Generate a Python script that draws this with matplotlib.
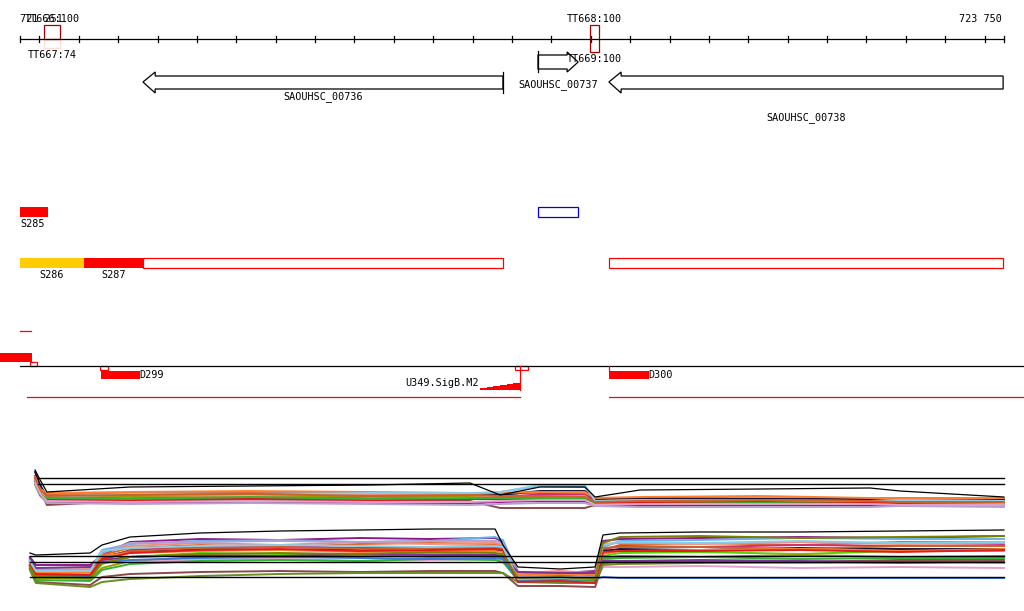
import matplotlib
matplotlib.use("Agg")
import matplotlib.pyplot as plt
from matplotlib.patches import Polygon, Rectangle

# ---------------- data ----------------
region_start, region_end = 721251, 723750
tick_step = 100

# terminators: name, score, start, end
terminators = [("TT666", 100, 721312, 721352), ("TT668", 100, 722698, 722721)]
term_labels_below = [("TT667", 74, 721332), ("TT669", 100, 722709)]

# genes: name, start, end, strand
genes = [("SAOUHSC_00736", 721563, 722477, -1),
         ("SAOUHSC_00737", 722566, 722668, +1),
         ("SAOUHSC_00738", 722746, 723747, -1)]

# segments
seg_S285 = (721251, 721322)
seg_blue = (722566, 722668)
seg_S286 = (721251, 721413)
seg_S287 = (721413, 721563)
seg_outline = [(721563, 722477), (722746, 723747)]

# small features track
feat_D299 = (721456, 721555)
feat_D300 = (722746, 722847)
feat_U349 = (722419, 722520)
red_bars_bottom = [(721269, 722520), (722746, 723800)]

# expression profiles, upper panel
up_x = [721289, 721302, 721319, 721530, 721835, 722139, 722393, 722470,
        722571, 722685, 722711, 722825, 723130, 723409, 723485, 723749]
up_ref = [7.4, 6.2]
up_black = [9.0, 7.0, 4.6, 5.6, 5.8, 6.0, 6.4, 4.0, 5.6, 5.6, 3.6, 5.0, 5.2, 5.4, 4.8, 3.6]
up_series = {
    "#66B3E6": [7.4, 5.4, 4.2, 4.4, 4.6, 4.4, 4.2, 4.6, 5.8, 5.6, 3.0, 3.2, 3.4, 3.4, 3.2, 3.0],
    "#E0662B": [7.8, 5.0, 4.0, 4.2, 4.4, 4.0, 4.2, 4.2, 4.4, 4.2, 3.0, 3.0, 3.2, 3.0, 2.8, 2.8],
    "#8B4A4A": [7.8, 5.0, 2.0, 2.8, 3.0, 2.8, 2.8, 1.4, 1.4, 1.4, 2.0, 2.0, 2.2, 2.0, 2.0, 2.2],
    "#14143C": [8.6, 6.0, 3.6, 3.6, 3.8, 3.6, 3.8, 4.0, 4.8, 4.8, 3.2, 3.4, 3.2, 3.2, 3.4, 3.2],
    "#55D400": [6.8, 4.6, 3.2, 3.4, 3.0, 3.4, 3.2, 3.4, 3.6, 3.4, 2.4, 2.6, 2.8, 2.6, 2.4, 2.4],
    "#9A9A00": [7.0, 4.4, 3.4, 3.8, 3.6, 3.8, 3.8, 3.0, 3.0, 3.0, 2.8, 2.8, 2.6, 2.6, 2.8, 2.6],
    "#CC2E7A": [6.6, 4.8, 3.0, 3.0, 3.4, 3.0, 3.2, 3.4, 4.2, 4.0, 2.8, 2.6, 2.4, 2.6, 2.6, 2.4],
    "#8B1A8B": [7.2, 4.2, 2.6, 2.4, 2.6, 2.4, 2.4, 2.6, 2.8, 2.8, 1.8, 1.8, 2.0, 2.0, 1.8, 1.8],
    "#F28C7A": [6.4, 4.6, 3.8, 4.0, 3.8, 4.2, 4.0, 3.6, 3.8, 3.8, 2.2, 2.4, 2.6, 2.4, 2.2, 2.2],
    "#B4A0D2": [6.0, 3.8, 2.4, 2.2, 2.4, 2.2, 2.0, 2.2, 2.4, 2.4, 1.8, 1.6, 1.6, 1.6, 1.8, 1.6],
    "#FF7F32": [7.6, 5.2, 4.4, 4.6, 4.8, 4.6, 4.4, 4.4, 4.6, 4.6, 3.4, 3.6, 3.8, 3.4, 3.4, 3.4],
    "#E31A1C": [6.8, 4.0, 3.0, 3.0, 3.2, 3.0, 3.2, 3.2, 3.2, 3.2, 2.6, 2.4, 2.6, 2.4, 2.4, 2.6],
    "#87CEEB": [7.0, 4.8, 3.6, 4.2, 4.0, 4.4, 4.4, 4.6, 6.0, 6.0, 2.8, 3.0, 3.0, 2.8, 3.0, 2.8],
    "#C8642A": [7.4, 5.0, 3.8, 4.0, 4.2, 3.8, 4.0, 3.8, 3.8, 3.6, 2.6, 2.8, 3.0, 2.8, 2.6, 2.6],
    "#33B233": [6.2, 4.0, 3.4, 3.2, 3.6, 3.2, 3.4, 3.4, 3.4, 3.2, 2.2, 2.2, 2.4, 2.2, 2.0, 2.0],
    "#E6A0C8": [6.4, 4.2, 2.8, 2.6, 2.8, 2.6, 2.6, 2.8, 3.0, 3.0, 2.0, 2.2, 2.2, 2.2, 2.0, 2.0],
}

# expression profiles, lower panel
lo_x = [721276, 721291, 721429, 721459, 721530, 721708, 721911, 722114, 722292, 722457,
        722477, 722515, 722622, 722711, 722731, 722774, 722977, 723231, 723485, 723749]
lo_ref = [7.8, 6.6, 3.6]
lo_black = [8.4, 8.0, 8.4, 10.0, 11.6, 12.4, 12.8, 13.0, 13.2, 13.2,
            10.0, 5.6, 5.2, 5.6, 12.0, 12.4, 12.6, 12.6, 12.8, 13.0]
lo_series = {
    "#8B1A8B": [7.6, 6.0, 6.0, 8.0, 10.6, 11.2, 11.0, 11.4, 11.2, 11.4, 10.6, 4.6, 4.4, 4.8, 10.8, 11.2, 11.4, 11.6, 11.4, 11.8],
    "#66B3E6": [7.0, 5.2, 5.0, 9.0, 10.2, 10.8, 11.0, 10.6, 10.8, 11.6, 11.0, 4.2, 4.4, 4.0, 9.6, 10.8, 11.0, 11.4, 11.2, 11.2],
    "#E0662B": [6.8, 4.6, 4.4, 8.0, 9.4, 10.0, 9.6, 10.2, 10.4, 10.2, 9.6, 4.0, 4.6, 4.2, 9.0, 10.0, 10.4, 10.0, 10.6, 10.6],
    "#CC2E7A": [6.4, 4.2, 4.0, 7.0, 9.0, 9.6, 9.8, 9.4, 9.6, 9.8, 9.0, 3.6, 3.2, 3.4, 9.2, 9.8, 9.6, 10.0, 9.8, 10.0],
    "#14143C": [6.0, 4.4, 4.8, 7.6, 8.8, 9.2, 9.0, 9.2, 9.4, 9.0, 8.8, 3.8, 3.4, 3.8, 8.8, 9.2, 9.0, 9.4, 9.2, 9.2],
    "#55D400": [6.2, 3.8, 3.6, 6.2, 7.6, 8.4, 8.2, 8.0, 8.4, 8.0, 8.0, 3.2, 3.4, 3.0, 7.8, 8.4, 8.6, 8.2, 8.8, 8.8],
    "#9A9A00": [5.6, 3.4, 3.2, 5.4, 6.8, 7.6, 7.8, 8.0, 7.6, 7.8, 7.4, 3.6, 4.0, 3.4, 7.4, 7.8, 7.6, 8.0, 7.6, 7.8],
    "#F28C7A": [7.2, 5.0, 5.2, 8.6, 9.8, 10.4, 10.0, 10.6, 10.2, 10.4, 10.0, 4.4, 4.8, 4.4, 10.2, 10.4, 10.2, 10.6, 10.2, 10.4],
    "#C8642A": [6.6, 4.0, 4.2, 7.4, 8.8, 9.4, 9.6, 9.2, 9.4, 9.4, 9.2, 3.4, 3.8, 3.6, 9.4, 9.6, 9.6, 9.2, 9.8, 9.8],
    "#B4A0D2": [6.4, 4.8, 5.0, 8.4, 10.4, 10.6, 10.8, 10.6, 10.8, 10.8, 10.4, 3.8, 3.6, 3.6, 7.0, 6.8, 6.6, 6.4, 6.8, 6.4],
    "#E6A0C8": [5.8, 4.6, 4.4, 6.8, 6.6, 7.0, 7.2, 6.8, 7.0, 7.2, 7.0, 2.8, 2.6, 2.6, 5.6, 5.6, 5.8, 5.4, 5.6, 5.4],
    "#33B233": [5.4, 3.0, 2.8, 5.0, 6.2, 6.8, 7.0, 6.8, 7.2, 7.0, 6.6, 3.0, 3.2, 2.8, 7.2, 7.4, 7.6, 7.2, 7.4, 7.4],
    "#8B4A4A": [5.2, 2.6, 2.0, 3.6, 4.2, 4.6, 4.8, 4.6, 4.8, 4.8, 4.4, 1.8, 1.8, 1.6, 6.4, 6.6, 6.8, 6.6, 7.0, 7.0],
    "#6B8E23": [5.0, 2.4, 1.6, 2.6, 3.2, 3.8, 4.2, 4.4, 4.4, 4.4, 4.4, 2.6, 2.4, 2.4, 6.0, 6.2, 6.4, 6.6, 6.4, 6.6],
    "#3C78D8": [5.8, 4.0, 3.8, 6.6, 7.0, 7.4, 7.6, 7.4, 7.2, 7.4, 7.2, 3.0, 3.0, 3.2, 3.6, 3.4, 3.4, 3.4, 3.4, 3.4],
    "#FF7F32": [6.6, 4.4, 4.6, 7.8, 8.4, 8.8, 9.0, 8.6, 8.8, 8.8, 8.6, 4.0, 4.2, 4.0, 8.2, 8.8, 9.0, 9.2, 8.8, 9.2],
    "#7B3294": [7.4, 5.4, 5.6, 7.0, 7.6, 8.0, 7.8, 8.2, 8.0, 8.0, 7.8, 4.6, 4.4, 4.4, 6.8, 6.8, 7.0, 6.8, 6.6, 6.6],
    "#E31A1C": [6.0, 4.2, 4.0, 7.2, 8.4, 9.0, 9.2, 8.8, 9.0, 9.2, 9.0, 2.6, 2.8, 2.4, 8.6, 8.8, 8.8, 9.0, 8.6, 9.0],
    "#87CEEB": [6.8, 4.8, 4.8, 8.8, 9.4, 9.8, 10.0, 9.8, 9.6, 9.8, 9.6, 3.2, 3.4, 3.2, 10.0, 10.6, 10.4, 10.8, 10.4, 10.6],
    "#808000": [5.6, 3.6, 3.4, 6.4, 7.6, 8.2, 8.4, 8.2, 8.6, 8.4, 8.2, 3.4, 3.6, 3.2, 10.4, 11.6, 11.8, 11.4, 11.6, 11.8],
}

# ---------------- drawing ----------------
W, H = 1024, 611
XMIN, XMAX = 721200, 723800
fig = plt.figure(figsize=(W / 100, H / 100), dpi=100)
ax = fig.add_axes([0, 0, 1, 1])
ax.set_xlim(XMIN, XMAX)
ax.set_ylim(H, 0)
ax.axis("off")

FONT = dict(family="DejaVu Sans Mono", fontsize=7.3, color="black")
LW = 0.9

# ruler
ax.plot([region_start, region_end], [39, 39], color="black", lw=LW)
ticks = [region_start] + list(range((region_start // tick_step + 1) * tick_step, region_end, tick_step)) + [region_end]
for t in ticks:
    ax.plot([t, t], [36, 42], color="black", lw=LW)
ax.text(region_start, 19, f"{region_start // 1000} {region_start % 1000:03d}", ha="left", va="center", **FONT)
ax.text(region_end - 5, 19, f"{region_end // 1000} {region_end % 1000:03d}", ha="right", va="center", **FONT)

# terminators
for i, (name, score, s, e) in enumerate(terminators):
    mid = (s + e) / 2
    ax.text(mid, 19, f"{name}:{score}", ha="center", va="center", **FONT)
    if i == 0:
        ax.add_patch(Rectangle((s, 25), e - s, 14, fill=False, ec="#A00000", lw=LW))
        ax.add_patch(Rectangle((s, 39), e - s, 9, fill=False, ec="#FFDDD5", lw=LW))
    else:
        ax.add_patch(Rectangle((s, 25), e - s, 27, fill=False, ec="#A00000", lw=LW))
for name, score, mid in term_labels_below:
    y = 55 if name == "TT667" else 59
    ax.text(mid, y, f"{name}:{score}", ha="center", va="center", **FONT)

# genes
for name, s, e, strand in genes:
    if strand < 0:
        hb = s + 31
        pts = [(s, 82), (hb, 72), (hb, 76), (e, 76), (e, 89), (hb, 89), (hb, 93)]
        ax.add_patch(Polygon(pts, closed=True, fill=False, ec="black", lw=LW))
        if name.endswith("00736"):
            ax.plot([e, e], [72, 93], color="black", lw=LW)
            ax.text((s + e) / 2, 97, name, ha="center", va="center", **FONT)
        else:
            ax.text((s + e) / 2, 118, name, ha="center", va="center", **FONT)
    else:
        hb = e - 28
        pts = [(s, 55), (hb, 55), (hb, 52), (e, 62), (hb, 72), (hb, 69), (s, 69)]
        ax.add_patch(Polygon(pts, closed=True, fill=False, ec="black", lw=LW))
        ax.plot([s, s], [51, 72], color="black", lw=LW)
        ax.text((s + e) / 2, 85, name, ha="center", va="center", **FONT)

# segment tracks
ax.add_patch(Rectangle((seg_S285[0], 207), seg_S285[1] - seg_S285[0], 10, color="#FF0000", lw=0))
ax.text(seg_S285[0], 224, "S285", ha="left", va="center", **FONT)
ax.add_patch(Rectangle((seg_blue[0], 207), seg_blue[1] - seg_blue[0], 10, fill=False, ec="#0000EE", lw=LW))
ax.add_patch(Rectangle((seg_S286[0], 258), seg_S286[1] - seg_S286[0], 10, color="#FFCC00", lw=0))
ax.text((seg_S286[0] + seg_S286[1]) / 2, 275, "S286", ha="center", va="center", **FONT)
ax.add_patch(Rectangle((seg_S287[0], 258), seg_S287[1] - seg_S287[0], 10, color="#FF0000", lw=0))
ax.text((seg_S287[0] + seg_S287[1]) / 2, 275, "S287", ha="center", va="center", **FONT)
for s, e in seg_outline:
    ax.add_patch(Rectangle((s, 258), e - s, 10, fill=False, ec="#FF0000", lw=LW))

# small features
ax.plot([721251, 721279], [331, 331], color="#FF0000", lw=LW)
ax.add_patch(Rectangle((XMIN, 353), 721281 - XMIN, 9, color="#FF0000", lw=0))
ax.add_patch(Rectangle((721277, 362), 17, 4, fill=False, ec="#FF0000", lw=LW))
ax.plot([region_start, XMAX], [366, 366], color="black", lw=LW)
ax.add_patch(Rectangle((feat_D299[0] - 3, 366), 20, 4, fill=False, ec="#FF0000", lw=LW))
ax.add_patch(Rectangle((feat_D299[0], 371), feat_D299[1] - feat_D299[0], 8, color="#FF0000", lw=0))
ax.text(feat_D299[1], 375, "D299", ha="left", va="center", **FONT)
ax.add_patch(Rectangle((feat_D300[0], 371), feat_D300[1] - feat_D300[0], 8, color="#FF0000", lw=0))
ax.plot([feat_D300[0], feat_D300[0]], [366, 372], color="#FF0000", lw=LW)
ax.text(feat_D300[1], 375, "D300", ha="left", va="center", **FONT)
# U349 ramp
s, e = feat_U349
nsteps = 6
step_w = (e - s) / nsteps
for k in range(nsteps):
    top = 389 - (k + 1) * 1.0
    ax.add_patch(Rectangle((s + k * step_w, top), step_w, 389.5 - top, color="#FF0000", lw=0))
ax.plot([e, e], [366, 389.5], color="#FF0000", lw=LW)
ax.add_patch(Rectangle((e - 13, 366), 33, 4, fill=False, ec="#FF0000", lw=LW))
ax.text(s - 3, 383, "U349.SigB.M2", ha="right", va="center", **FONT)
for s, e in red_bars_bottom:
    ax.plot([s, e], [397, 397], color="#FF0000", lw=LW)


def panel(top_px, bot_px, vmax, xs, black, series, refs, ref_start):
    pax = fig.add_axes([0, 1 - bot_px / H, 1, (bot_px - top_px) / H])
    pax.set_xlim(XMIN, XMAX)
    pax.set_ylim(0, vmax)
    pax.axis("off")
    for r in refs:
        pax.plot([ref_start, region_end], [r, r], color="black", lw=1.0, zorder=5)
    for col, vals in series.items():
        pax.plot(xs, vals, color=col, lw=1.4)
    pax.plot(xs, black, color="black", lw=0.9, zorder=6)
    return pax


panel(460, 515, 11, up_x, up_black, up_series, up_ref, 721296)
panel(520, 595, 15, lo_x, lo_black, lo_series, lo_ref, 721276)

fig.savefig("out.png", dpi=100)
